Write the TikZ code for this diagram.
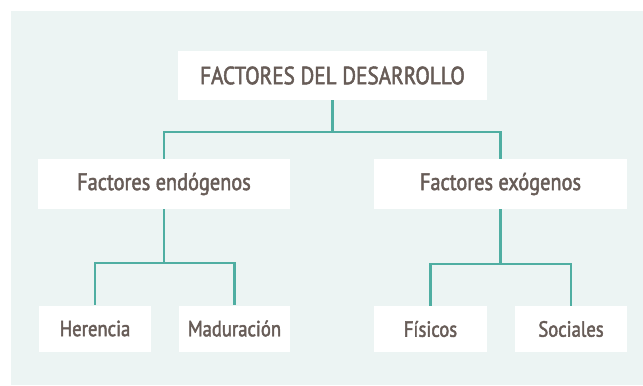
\documentclass[tikz,border=0pt]{standalone}
\usepackage{fontspec}
\setmainfont{PT Sans}[FakeStretch=0.85,FakeBold=2]
\definecolor{bgmint}{HTML}{ECF4F3}
\definecolor{txt}{HTML}{675C57}
\definecolor{teal}{HTML}{4FAEA2}
\begin{document}
\begin{tikzpicture}[x=1bp,y=-1bp,
  box/.style={draw=none,fill=white,text=txt,inner sep=0pt,anchor=center},
  lvla/.style={box,minimum width=309bp,minimum height=49bp,font=\fontsize{25}{28}\selectfont},
  lvlb/.style={box,minimum width=252bp,minimum height=50bp,font=\fontsize{24}{27}\selectfont},
  lvlc/.style={box,minimum width=112bp,minimum height=46bp,font=\fontsize{22}{25}\selectfont},
  link/.style={draw=teal,line width=2.5bp}]
\useasboundingbox (0,0) rectangle (643,385);
\fill[white] (0,0) rectangle (643,385);
\fill[bgmint] (11,11) rectangle (643,385);
\node[lvla] (top) at (332.5,75.5) {FACTORES DEL DESARROLLO};
\node[lvlb] (endo) at (164,184) {Factores endógenos};
\node[lvlb,minimum width=253bp] (exo) at (500.5,184) {Factores exógenos};
\node[lvlc] (her) at (95,328.5) {Herencia};
\node[lvlc,minimum width=111bp] (mad) at (234.5,328.5) {Maduración};
\node[lvlc,minimum width=113bp] (fis) at (430.5,329) {Físicos};
\node[lvlc] (soc) at (571,329) {Sociales};
\coordinate (j0) at (332.5,132);
\coordinate (j1) at (164,263);
\coordinate (j2) at (500.5,264);
\draw[link] (top.south) -- (j0);
\draw[link] (j0) -| (endo.north);
\draw[link] (j0) -| (exo.north);
\draw[link] (endo.south) -- (j1);
\draw[link] (j1) -| (her.north);
\draw[link] (j1) -| (mad.north);
\draw[link] (exo.south) -- (j2);
\draw[link] (j2) -| (fis.north);
\draw[link] (j2) -| (soc.north);
\end{tikzpicture}
\end{document}
